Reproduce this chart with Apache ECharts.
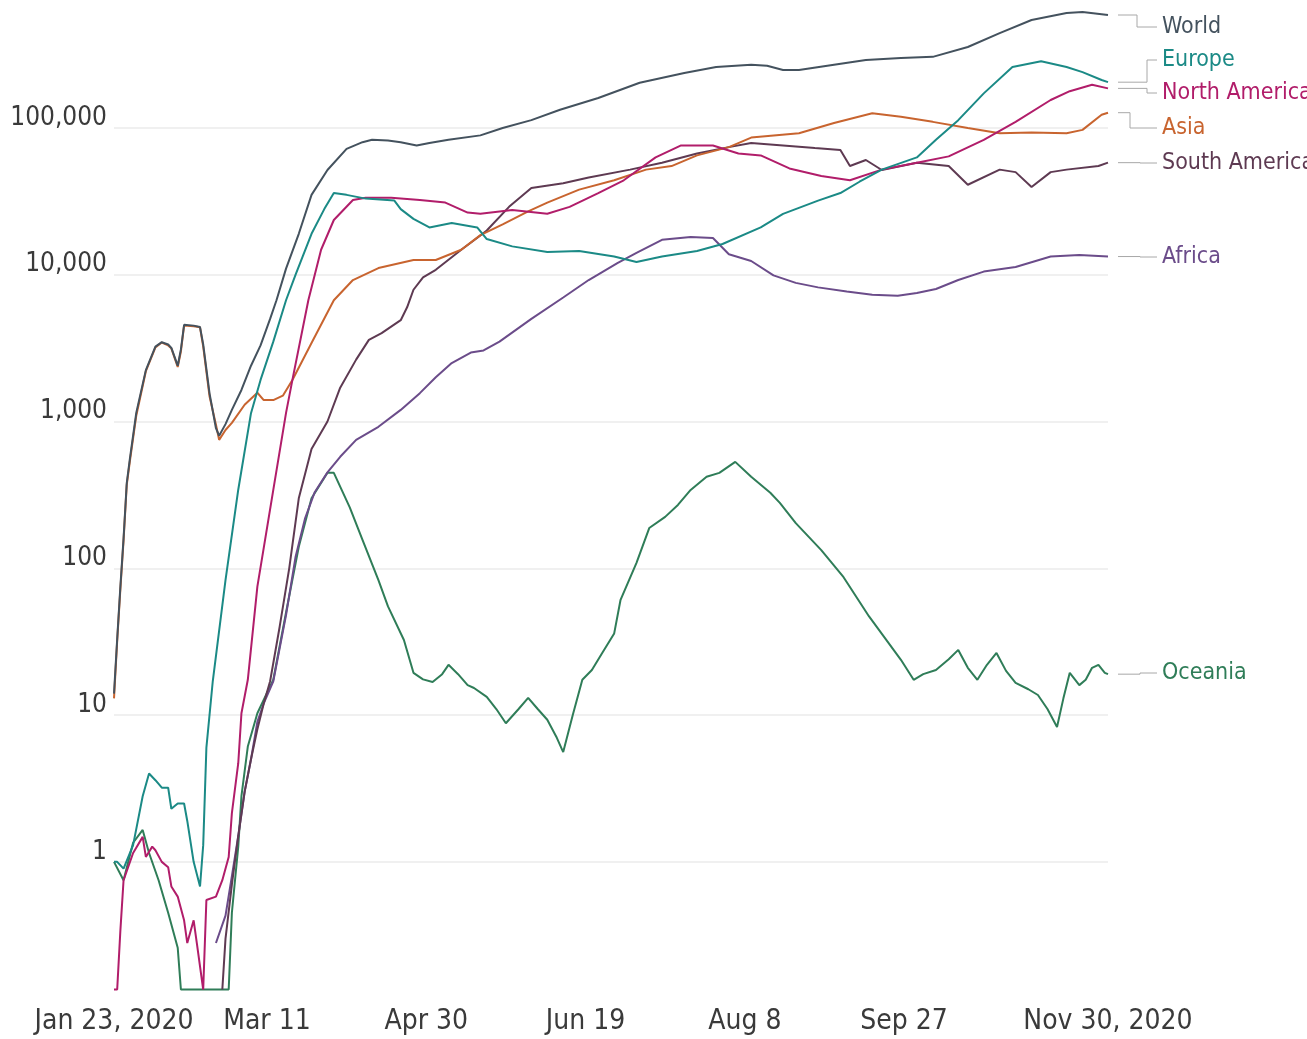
<!DOCTYPE html>
<html>
<head>
<meta charset="utf-8">
<script src="https://cdn.jsdelivr.net/npm/echarts@6/dist/echarts.min.js"></script>
<style>html,body{margin:0;padding:0;background:#fff}#c{width:1307px;height:1039px}</style>
</head>
<body>
<div id="c"></div>
<script>
// x = days since Jan 23, 2020
const tickDays = [0, 48, 98, 148, 198, 248, 312];
const tickLabels = ['Jan 23, 2020', 'Mar 11', 'Apr 30', 'Jun 19', 'Aug 8', 'Sep 27', 'Nov 30, 2020'];
const yTicks = [1, 10, 100, 1000, 10000, 100000];

const world = [[0,14],[1,33],[2,75],[3,160],[4,380],[5,560],[7,1150],[10,2240],[13,3240],[15,3470],[17,3350],[18,3170],[20,2400],[21,3100],[22,4560],[25,4500],[27,4400],[28,3350],[30,1550],[32,900],[33,800],[35,960],[37,1200],[40,1640],[43,2400],[46,3300],[49,5000],[51,6700],[54,11000],[58,19000],[62,35000],[67,51700],[73,72000],[78,80000],[81,83000],[86,82000],[90,80000],[95,76000],[99,79000],[105,83000],[115,89000],[122,100000],[131,113000],[140,133000],[152,160000],[165,203000],[179,237000],[189,260000],[200,269000],[205,265000],[210,248000],[215,248000],[226,269000],[236,290000],[247,300000],[257,305000],[268,356000],[278,443000],[288,544000],[299,607000],[304,617000],[312,588000]];

const europe = [[0,1.0],[1,1.0],[3,0.9],[6,1.3],[9,2.8],[11,4.0],[13,3.6],[15,3.2],[17,3.2],[18,2.3],[20,2.5],[22,2.5],[23,1.9],[25,1.0],[27,0.68],[28,1.3],[29,6],[31,17],[35,83],[39,343],[43,1140],[46,1920],[50,3500],[54,6700],[57,10000],[62,19000],[66,28000],[69,36000],[73,35000],[79,33000],[88,32000],[90,28000],[94,24000],[99,21000],[106,22500],[114,21000],[117,17500],[125,15600],[136,14300],[146,14500],[157,13300],[164,12200],[172,13300],[183,14500],[191,16200],[203,21000],[210,26000],[221,32000],[228,36000],[234,43000],[241,52000],[252,63000],[258,83000],[265,113000],[273,172000],[282,260000],[291,285000],[299,260000],[304,240000],[310,212000],[312,205000]];

const northAmerica = [[0,0.135],[1,0.135],[2,0.34],[3,0.75],[6,1.15],[9,1.48],[10,1.08],[12,1.27],[13,1.2],[15,1.0],[17,0.92],[18,0.68],[20,0.58],[22,0.4],[23,0.28],[25,0.4],[26,0.28],[28,0.135],[29,0.55],[32,0.58],[34,0.75],[36,1.08],[37,2.15],[39,4.7],[40,10.3],[42,17.4],[45,75],[50,342],[54,1145],[56,1920],[61,6700],[65,14800],[69,23600],[75,32300],[79,33500],[87,33500],[96,32300],[104,31000],[111,26500],[115,26000],[125,27600],[136,26000],[143,29000],[152,36000],[160,44000],[170,63000],[178,76000],[188,76000],[196,67000],[203,65000],[212,53000],[222,47000],[231,44000],[241,52000],[252,58000],[262,64000],[273,83000],[283,110000],[294,155000],[300,178000],[307,197000],[312,186000]];

const asia = [[0,13],[1,32],[2,72],[3,155],[4,370],[5,540],[7,1100],[10,2200],[13,3200],[15,3450],[17,3300],[18,3150],[20,2350],[21,3000],[22,4500],[25,4450],[27,4380],[28,3240],[30,1480],[32,950],[33,750],[35,875],[37,980],[41,1300],[45,1570],[47,1400],[50,1400],[53,1500],[56,1920],[62,3430],[69,6700],[75,9200],[83,11100],[94,12600],[101,12600],[109,14800],[115,18600],[122,22000],[130,27000],[136,31000],[146,38000],[157,44000],[167,52000],[175,55000],[183,65000],[193,74000],[200,86000],[215,92000],[226,108000],[238,126000],[247,119000],[257,110000],[268,100000],[278,92000],[288,93000],[299,92000],[304,97000],[310,123000],[312,127000]];

const southAmerica = [[34,0.135],[35,0.3],[37,0.7],[39,1.5],[41,3],[43,5],[45,8],[47,12],[49,17],[52,40],[55,100],[58,300],[62,650],[67,1000],[71,1700],[76,2640],[80,3600],[84,4000],[90,4900],[92,6000],[94,7900],[97,9600],[101,10800],[109,14800],[115,18500],[117,20000],[124,29000],[131,39000],[141,42000],[149,46000],[162,52000],[172,58000],[183,67000],[193,74000],[200,79000],[210,76000],[220,73000],[228,70800],[231,55000],[236,60500],[241,51700],[252,58000],[262,55000],[268,41000],[278,52000],[283,50000],[288,39600],[294,50000],[299,52000],[309,55000],[312,58000]];

const africa = [[32,0.28],[35,0.43],[37,0.8],[39,1.5],[41,3],[43,5],[45,9],[47,12],[50,17],[54,48],[57,120],[60,220],[63,330],[67,450],[71,575],[76,750],[83,920],[90,1200],[96,1560],[101,2000],[106,2500],[112,2950],[116,3050],[121,3500],[131,5000],[141,7000],[149,9200],[158,12000],[164,14100],[172,17300],[181,18100],[188,17800],[193,13800],[200,12400],[207,9900],[214,8800],[221,8200],[230,7700],[238,7300],[246,7200],[252,7500],[258,8000],[265,9200],[273,10500],[283,11300],[294,13300],[303,13600],[312,13300]];

const oceania = [[0,1.0],[3,0.75],[6,1.35],[9,1.65],[11,1.15],[14,0.75],[17,0.45],[20,0.26],[21,0.135],[36,0.135],[37,0.45],[39,1.27],[40,2.8],[42,6.1],[45,10.3],[50,17.4],[54,50],[58,140],[62,300],[67,447],[69,447],[74,260],[78,156],[83,83],[86,55],[91,32.5],[94,19.4],[97,17.5],[100,16.8],[103,19],[105,22],[108,19],[111,16],[113,15.3],[117,13.3],[120,11],[123,8.8],[127,11],[130,13.1],[133,11],[136,9.3],[139,7],[141,5.6],[144,10],[147,17.4],[150,20.3],[153,26],[157,36],[159,61],[164,109],[168,188],[173,224],[177,270],[181,342],[186,420],[190,447],[195,531],[200,420],[206,327],[209,279],[214,203],[222,133],[229,87],[237,47],[247,23.8],[251,17.4],[254,19],[258,20.3],[262,24],[265,27.8],[268,21],[271,17.4],[274,22],[277,26.5],[280,20],[283,16.6],[287,15],[290,13.7],[293,11],[296,8.3],[298,13],[300,19.4],[303,16],[305,17.4],[307,21],[309,22],[311,19.4],[312,19]];

const FONT = "'Liberation Sans Narrow','Arial Narrow','DejaVu Sans Condensed','Roboto Condensed',sans-serif";

const seriesList = [
  {name:'Oceania', data:oceania, color:'#2f7d58', labelY:673, elbowX:1140},
  {name:'Africa', data:africa, color:'#6b4c8a', labelY:257, elbowX:1140},
  {name:'South America', data:southAmerica, color:'#5e3a52', labelY:163, elbowX:1140},
  {name:'Asia', data:asia, color:'#c8642f', labelY:128, elbowX:1130},
  {name:'North America', data:northAmerica, color:'#b11d6a', labelY:93, elbowX:1147},
  {name:'Europe', data:europe, color:'#1b8a86', labelY:60, elbowX:1147},
  {name:'World', data:world, color:'#44525e', labelY:27, elbowX:1137}
];

const chart = echarts.init(document.getElementById('c'));
chart.setOption({
  animation: false,
  backgroundColor: '#fff',
  grid: {left:114, right:199, top:10, bottom:49, containLabel:false, outerBoundsMode:'none'},
  xAxis: {
    type:'value', min:0, max:312,
    axisLine:{show:false},
    axisTick:{show:false, customValues:tickDays},
    splitLine:{show:false},
    axisLabel:{
      customValues:tickDays,
      formatter: v => { const i = tickDays.findIndex(t => Math.abs(t - v) < 0.5); return i >= 0 ? tickLabels[i] : ''; },
      fontSize:28, fontFamily:FONT, color:'#3a3a3a', margin:18
    }
  },
  yAxis: {
    type:'log', logBase:10, min:0.134, max:636000,
    axisLine:{show:false},
    axisTick:{show:false, customValues:yTicks},
    splitLine:{show:true, lineStyle:{color:'#ebebeb', width:1.5}},
    axisLabel:{
      customValues:yTicks,
      formatter: v => Math.round(v).toLocaleString('en-US'),
      fontSize:26, fontFamily:FONT, color:'#3a3a3a', margin:7,
      verticalAlign:'bottom', lineHeight:20
    }
  },
  series: seriesList.map(s => ({
    type:'line', name:s.name, data:s.data, showSymbol:false, silent:true,
    lineStyle:{color:s.color, width:2}, itemStyle:{color:s.color}
  }))
});

const g = [];
seriesList.forEach(s => {
  const last = s.data[s.data.length - 1];
  const p = chart.convertToPixel({xAxisIndex:0, yAxisIndex:0}, last);
  g.push({
    type:'polyline', silent:true,
    shape:{points:[[p[0] + 10, p[1]], [s.elbowX, p[1]], [s.elbowX, s.labelY], [1157, s.labelY]]},
    style:{stroke:'#a8a8a8', lineWidth:1, fill:null}
  });
  g.push({
    type:'text', silent:true, x:1162, y:s.labelY,
    style:{text:s.name, fill:s.color, fontSize:23, fontFamily:FONT, verticalAlign:'middle', align:'left'}
  });
});
chart.setOption({graphic: g});
</script>
</body>
</html>
